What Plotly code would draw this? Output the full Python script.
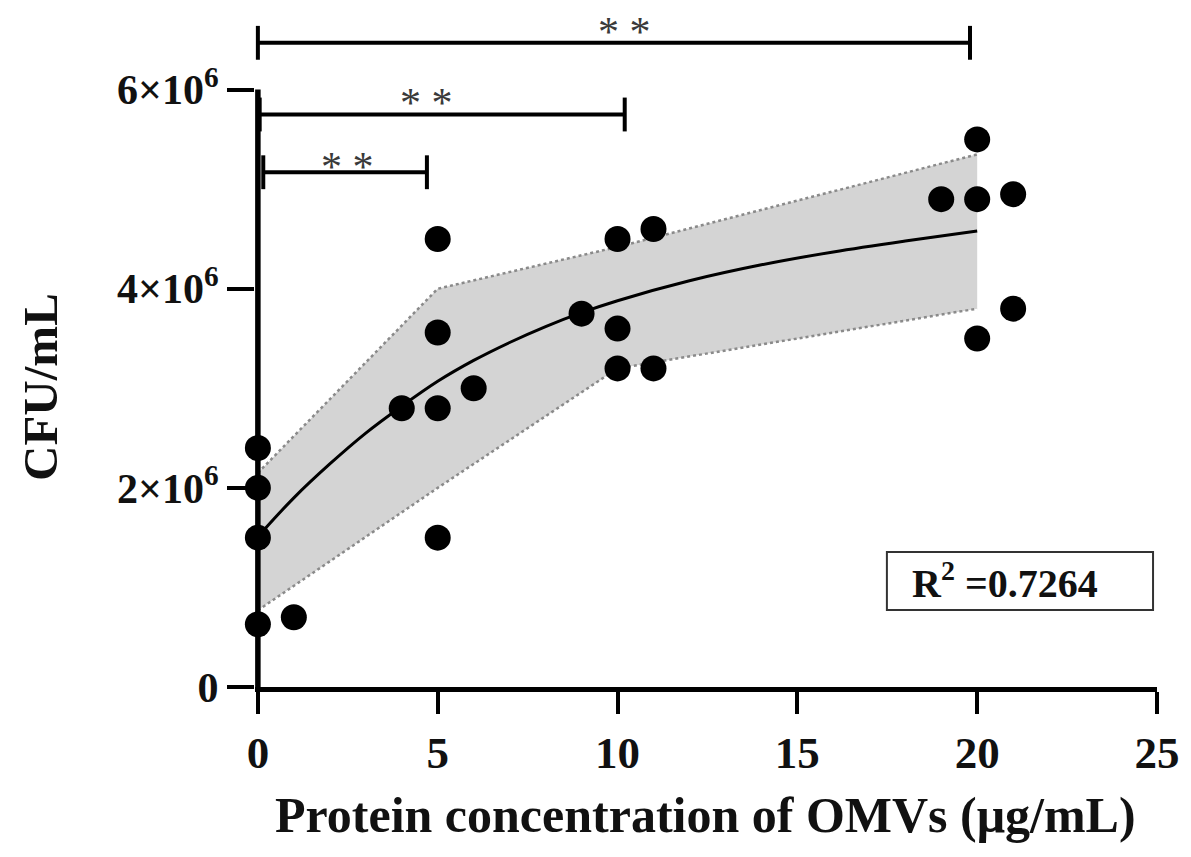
import plotly.graph_objects as go

# ---- data ----
x_vals = [0, 0, 0, 0, 1, 4, 5, 5, 5, 5, 6, 9, 10, 10, 10, 11, 11, 19, 20, 20, 20, 21, 21]
y_vals = [2.4e6, 2.0e6, 1.5e6, 0.63e6, 0.7e6, 2.8e6, 4.5e6, 3.56e6, 2.8e6, 1.5e6, 3.0e6,
          3.75e6, 4.5e6, 3.6e6, 3.2e6, 4.6e6, 3.2e6, 4.9e6, 5.5e6, 4.9e6, 3.5e6, 4.95e6, 3.8e6]

curve_x = [0.1, 1, 2, 3, 4, 5, 6, 7, 8, 9, 10, 12, 14, 16, 18, 20]
curve_y = [1.55e6, 1.9e6, 2.24e6, 2.55e6, 2.82e6, 3.07e6, 3.28e6, 3.46e6, 3.62e6, 3.76e6,
           3.88e6, 4.08e6, 4.24e6, 4.37e6, 4.48e6, 4.58e6]

band_x = [0, 5, 10, 20]
band_upper = [2.15e6, 4.0e6, 4.42e6, 5.35e6]
band_lower = [0.77e6, 2.0e6, 3.2e6, 3.8e6]

bracket_x0 = [0, 0.05, 0.15]
bracket_x1 = [19.8, 10.2, 4.7]
bracket_y = [6.47e6, 5.75e6, 5.17e6]
bracket_cap = 0.17e6
star_x = [10.2, 4.7, 2.5]
star_y = [6.575e6, 5.865e6, 5.225e6]
star_text = ["* *", "* *", "* *"]

x_tickvals = [0, 5, 10, 15, 20, 25]
y_tickvals = [0, 2e6, 4e6, 6e6]
y_ticktext = ["0", "2×10<sup>6</sup>", "4×10<sup>6</sup>", "6×10<sup>6</sup>"]

r2_text = "R<sup>2</sup> =0.7264"
x_title = "Protein concentration of OMVs (μg/mL)"
y_title = "CFU/mL"

FONT = "Liberation Serif"

fig = go.Figure()

# confidence band fill
fig.add_trace(go.Scatter(
    x=band_x + band_x[::-1], y=band_upper + band_lower[::-1],
    fill="toself", fillcolor="#d4d4d4", line=dict(width=0),
    mode="lines", hoverinfo="skip", showlegend=False))
# dotted band edges
for ys in (band_upper, band_lower):
    fig.add_trace(go.Scatter(
        x=band_x, y=ys, mode="lines",
        line=dict(color="#8a8a8a", width=2.5, dash="dot"),
        hoverinfo="skip", showlegend=False))

# y axis line (ends at 6e6)
fig.add_trace(go.Scatter(
    x=[0, 0], y=[0, 6e6], mode="lines",
    line=dict(color="black", width=5.5), hoverinfo="skip", showlegend=False))

# fitted curve
fig.add_trace(go.Scatter(
    x=curve_x, y=curve_y, mode="lines", line=dict(color="black", width=3, shape="spline"),
    hoverinfo="skip", showlegend=False))

# data points
fig.add_trace(go.Scatter(
    x=x_vals, y=y_vals, mode="markers",
    marker=dict(color="black", size=26, line=dict(width=0)),
    cliponaxis=False, showlegend=False))

# significance brackets
for x0, x1, yb in zip(bracket_x0, bracket_x1, bracket_y):
    fig.add_trace(go.Scatter(
        x=[x0, x0, None, x0, x1, None, x1, x1],
        y=[yb - bracket_cap, yb + bracket_cap, None, yb, yb, None, yb - bracket_cap, yb + bracket_cap],
        mode="lines", line=dict(color="black", width=4),
        hoverinfo="skip", showlegend=False, cliponaxis=False))

for sx, sy, st in zip(star_x, star_y, star_text):
    fig.add_annotation(x=sx, y=sy, text=st, showarrow=False,
                       xanchor="center", yanchor="middle",
                       font=dict(family=FONT, size=42, color="#3a3a3a"))

# R^2 box (frame + text)
fig.add_shape(type="rect", xref="x", yref="y", x0=17.49, x1=24.89, y0=0.773e6, y1=1.356e6,
              line=dict(color="#333333", width=2), fillcolor="white", layer="above")
fig.add_annotation(x=18.13, y=1.065e6, text=r2_text, showarrow=False,
                   xanchor="left", yanchor="middle", align="left",
                   font=dict(family=FONT, size=40, color="#111111", weight="bold"))

# axis titles
fig.add_annotation(xref="paper", yref="paper", x=0.499, y=-0.186, text=x_title,
                   showarrow=False, xanchor="center", yanchor="middle",
                   font=dict(family=FONT, size=50, color="#111111", weight="bold"))
fig.add_annotation(xref="paper", yref="paper", x=-0.237, y=0.437, text=y_title,
                   showarrow=False, xanchor="center", yanchor="middle", textangle=-90,
                   font=dict(family=FONT, size=49, color="#111111", weight="bold"))

fig.update_layout(
    width=1191, height=857,
    margin=dict(l=255, r=34, t=0, b=170),
    paper_bgcolor="white", plot_bgcolor="white",
    showlegend=False,
    xaxis=dict(range=[-0.08, 25], tickvals=x_tickvals, ticks="outside", ticklen=22,
               tickwidth=4, tickcolor="black", showline=True, linewidth=5, linecolor="black",
               showgrid=False, zeroline=False,
               tickfont=dict(family=FONT, size=45, color="#111111", weight="bold")),
    yaxis=dict(range=[0, 6.9e6], tickvals=y_tickvals, ticktext=y_ticktext, ticks="outside",
               ticklen=27, tickwidth=4, tickcolor="black", showline=False,
               showgrid=False, zeroline=False,
               tickfont=dict(family=FONT, size=42, color="#111111", weight="bold")),
)

fig.write_html("out.html")
